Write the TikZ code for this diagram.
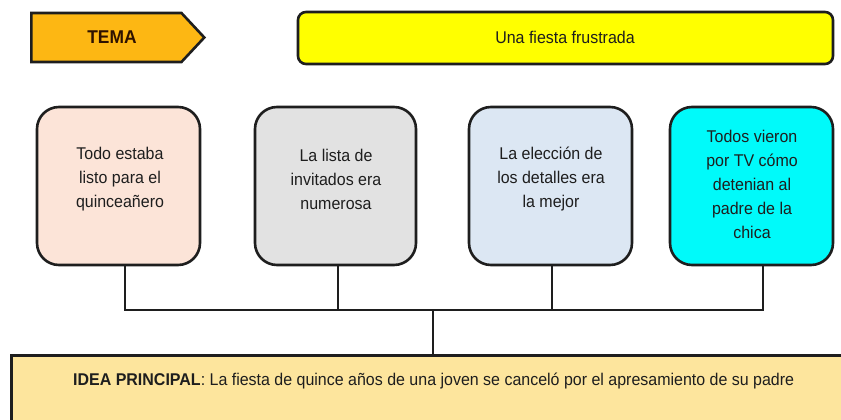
\documentclass[tikz,border=0pt]{standalone}
\usepackage{fontspec}
\setmainfont{Liberation Sans}[FakeStretch=0.94]
\usetikzlibrary{shapes.symbols}
\definecolor{temaorange}{HTML}{FDB713}
\definecolor{titleyellow}{HTML}{FFFF00}
\definecolor{peach}{HTML}{FCE4D8}
\definecolor{greybox}{HTML}{E2E2E2}
\definecolor{lightblue}{HTML}{DCE7F3}
\definecolor{cyanbox}{HTML}{00FAFA}
\definecolor{ideafill}{HTML}{FDE59D}
\definecolor{ink}{HTML}{1E1E1E}
\definecolor{temaink}{HTML}{2E1200}
\tikzset{
  txt/.style={font=\fontsize{17}{24}\selectfont, text=ink, align=center, inner sep=0pt},
  card/.style={draw=ink, line width=2.6pt, rounded corners=22pt, minimum width=163pt, minimum height=158pt, inner sep=0pt},
  wire/.style={draw=ink, line width=2.2pt},
}
\begin{document}
\begin{tikzpicture}[x=1pt,y=-1pt]
\clip (0,0) rectangle (841,420);
\fill[white] (0,0) rectangle (841,420);
% header
\node[signal, signal to=east, signal pointer angle=94, draw=ink, line width=2.6pt, fill=temaorange,
  minimum width=173pt, minimum height=49pt, inner sep=0pt, anchor=west] (tema) at (30,37.5) {};
\node[txt, font=\fontsize{18.5}{20}\selectfont\bfseries, text=temaink] (tematxt) at (112,37) {TEMA};
\node[draw=ink, line width=2.6pt, fill=titleyellow, rounded corners=8pt, minimum width=535pt,
  minimum height=52pt, inner sep=0pt] (title) at (565.5,38) {};
\node[txt] (titletxt) at (565,37) {Una fiesta frustrada};
% cards
\node[card, fill=peach] (b1) at (118.5,186) {};
\node[card, fill=greybox, minimum width=161pt] (b2) at (335.5,186) {};
\node[card, fill=lightblue] (b3) at (550.5,186) {};
\node[card, fill=cyanbox] (b4) at (751.5,186) {};
\node[txt] (t1) at (120,179) {Todo estaba\\listo para el\\quinceañero};
\node[txt] (t2) at (336,179) {La lista de\\invitados era\\numerosa};
\node[txt] (t3) at (551,179) {La elección de\\los detalles era\\la mejor};
\node[txt] (t4) at (752,184) {Todos vieron\\por TV cómo\\detenian al\\padre de la\\chica};
% idea box
\node[draw=ink, line width=2.6pt, fill=ideafill, minimum width=860pt, minimum height=90pt,
  inner sep=0pt, anchor=north west] (idea) at (10,354) {};
\node[txt, anchor=west] (ideatxt) at (73,381) {\textbf{IDEA PRINCIPAL}: La fiesta de quince años de una joven se canceló por el apresamiento de su padre};
% connectors
\coordinate (h1) at (125,310);
\coordinate (h2) at (338,310);
\coordinate (h3) at (552,310);
\coordinate (h4) at (763,310);
\coordinate (hub) at (433,310);
\draw[wire] ([xshift=6.5pt]b1.south) -- (h1) -- (h4) -- ([xshift=11.5pt]b4.south);
\draw[wire] ([xshift=2.5pt]b2.south) -- (h2);
\draw[wire] ([xshift=1.5pt]b3.south) -- (h3);
\draw[wire] (hub) -- (idea.north -| hub);
\end{tikzpicture}
\end{document}
